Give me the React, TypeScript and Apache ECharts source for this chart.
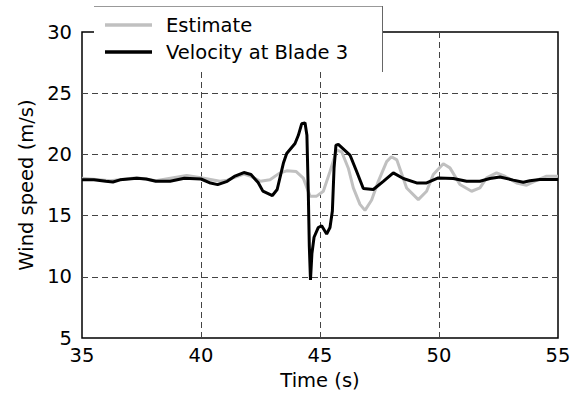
import React, { useEffect, useRef } from "react";
import * as echarts from "echarts";

const bladeTime = [35.0, 35.5, 36.0, 36.3, 36.6, 37.3, 37.7, 38.1, 38.7, 39.3, 40.0, 40.4, 40.7, 41.1, 41.4, 41.8, 42.1, 42.4, 42.6, 43.0, 43.2, 43.46, 43.6, 43.95, 44.09, 44.23, 44.37, 44.45, 44.51, 44.55, 44.6, 44.66, 44.75, 44.93, 45.07, 45.28, 45.42, 45.52, 45.59, 45.67, 45.77, 46.26, 46.54, 46.82, 47.24, 47.66, 48.08, 48.5, 49.06, 49.48, 49.97, 50.6, 51.16, 51.72, 52.14, 52.56, 53.12, 53.54, 53.82, 54.24, 55.0];
const bladeSpeed = [17.92, 17.92, 17.8, 17.75, 17.92, 18.05, 17.99, 17.8, 17.8, 18.05, 17.99, 17.66, 17.53, 17.8, 18.2, 18.52, 18.36, 17.7, 17.0, 16.64, 17.13, 19.27, 20.08, 20.89, 21.56, 22.5, 22.58, 21.56, 16.72, 12.56, 9.74, 11.89, 13.23, 14.03, 14.17, 13.5, 14.03, 15.38, 18.87, 20.76, 20.81, 19.95, 18.6, 17.21, 17.13, 17.8, 18.49, 18.03, 17.67, 17.67, 18.08, 18.03, 17.81, 17.81, 18.03, 18.16, 17.9, 17.72, 17.85, 17.95, 17.95];

const estTime = [35.0, 36.2, 37.3, 38.1, 39.4, 40.0, 40.8, 41.1, 41.8, 42.1, 42.5, 42.9, 43.3, 43.6, 44.0, 44.3, 44.58, 44.86, 45.14, 45.42, 45.7, 45.91, 46.19, 46.4, 46.68, 46.89, 47.17, 47.45, 47.8, 48.0, 48.23, 48.64, 49.13, 49.48, 49.76, 50.18, 50.46, 50.88, 51.37, 51.72, 52.0, 52.42, 52.77, 53.26, 53.68, 54.1, 54.52, 55.0];
const estSpeed = [18.05, 17.85, 18.1, 17.85, 18.28, 18.1, 17.8, 17.9, 18.4, 18.2, 17.8, 17.93, 18.47, 18.66, 18.6, 18.06, 16.59, 16.59, 16.99, 18.6, 20.35, 20.22, 18.87, 17.26, 15.92, 15.43, 16.27, 17.8, 19.41, 19.81, 19.55, 17.26, 16.31, 16.99, 18.36, 19.23, 18.9, 17.54, 16.99, 17.26, 18.08, 18.49, 18.22, 17.67, 17.48, 17.87, 18.22, 18.22];

const seriesNames = ["Estimate", "Velocity at Blade 3"];
const xTitle = "Time (s)";
const yTitle = "Wind speed (m/s)";

const FONT = "DejaVu Sans";

export default function App() {
  const ref = useRef<HTMLDivElement>(null);
  useEffect(() => {
    if (!ref.current) return;
    const chart = echarts.init(ref.current, null, { renderer: "svg" });
    const gridStyle = { show: true, showMinLine: false, showMaxLine: false, lineStyle: { color: "#444", width: 1, type: [6, 4] as any } };
    chart.setOption({
      animation: false,
      backgroundColor: "#fff",
      grid: { left: 82, right: 22, top: 32, bottom: 58, show: true, borderColor: "#000", borderWidth: 1.5, backgroundColor: "transparent" },
      xAxis: {
        type: "value", min: 35, max: 55, interval: 5,
        name: xTitle, nameLocation: "middle", nameGap: 32,
        nameTextStyle: { fontFamily: FONT, fontSize: 19.5, color: "#000" },
        axisLine: { show: false }, axisTick: { show: false },
        axisLabel: { fontFamily: FONT, fontSize: 19.5, color: "#000", margin: 7 },
        splitLine: gridStyle,
      },
      yAxis: {
        type: "value", min: 5, max: 30, interval: 5,
        name: yTitle, nameLocation: "middle", nameGap: 46,
        nameTextStyle: { fontFamily: FONT, fontSize: 19.5, color: "#000" },
        axisLine: { show: false }, axisTick: { show: false },
        axisLabel: { fontFamily: FONT, fontSize: 19.5, color: "#000", margin: 10 },
        splitLine: gridStyle,
      },
      series: [
        {
          name: seriesNames[0], type: "line", showSymbol: false, symbol: "none",
          data: estTime.map((t, i) => [t, estSpeed[i]]),
          lineStyle: { color: "#c0c0c0", width: 3 }, z: 2,
        },
        {
          name: seriesNames[1], type: "line", showSymbol: false, symbol: "none",
          data: bladeTime.map((t, i) => [t, bladeSpeed[i]]),
          lineStyle: { color: "#000", width: 3 }, z: 3,
        },
      ],
      graphic: [
        { type: "rect", z: 50, shape: { x: 94, y: 6, width: 288, height: 66 }, style: { fill: "#fff" } },
        { type: "line", z: 51, shape: { x1: 94, y1: 6.5, x2: 382, y2: 6.5 }, style: { stroke: "#999", lineWidth: 1 } },
        { type: "line", z: 51, shape: { x1: 382.5, y1: 6, x2: 382.5, y2: 72 }, style: { stroke: "#666", lineWidth: 1 } },
        { type: "line", z: 52, shape: { x1: 105, y1: 25, x2: 152, y2: 25 }, style: { stroke: "#c0c0c0", lineWidth: 3.5 } },
        { type: "line", z: 52, shape: { x1: 105, y1: 52, x2: 152, y2: 52 }, style: { stroke: "#000", lineWidth: 3.5 } },
        { type: "text", z: 52, x: 166, y: 25, style: { text: seriesNames[0], fontFamily: FONT, fontSize: 19.5, fill: "#000", verticalAlign: "middle", align: "left" } },
        { type: "text", z: 52, x: 166, y: 52, style: { text: seriesNames[1], fontFamily: FONT, fontSize: 19.5, fill: "#000", verticalAlign: "middle", align: "left" } },
      ],
    });
    return () => chart.dispose();
  }, []);
  return <div ref={ref} style={{ position: "fixed", left: 0, top: 0, width: 580, height: 396 }} />;
}
